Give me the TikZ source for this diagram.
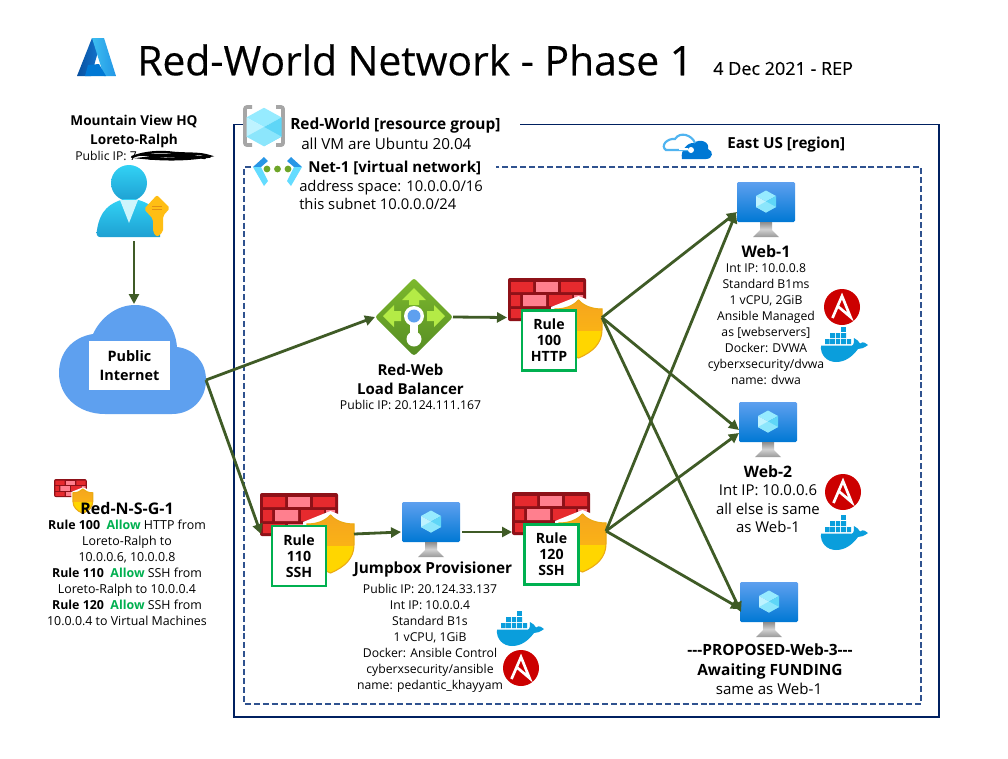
\documentclass[tikz,border=0pt]{standalone}
\usepackage{fontspec}
\setmainfont{Open Sans}
\newfontfamily\titlefont[FakeBold=0.35]{Open Sans}
\newfontfamily\datefont[FakeBold=0.15]{Open Sans}
\usetikzlibrary{arrows.meta,calc}
\definecolor{conn}{HTML}{3F5B26}
\definecolor{ruleg}{HTML}{00B050}
\definecolor{outerb}{HTML}{002060}
\definecolor{innerb}{HTML}{2F528F}
\definecolor{cloudb}{HTML}{5EA0EF}
\definecolor{azblue}{HTML}{0078D4}
\definecolor{brickd}{HTML}{8E1118}
\definecolor{brickr}{HTML}{E62A2E}
\definecolor{brickp}{HTML}{FF7F8E}
\definecolor{dockb}{HTML}{0A9EDC}
\definecolor{ansr}{HTML}{CC0000}
\definecolor{cubea}{HTML}{96EBFF}
\definecolor{cubeb}{HTML}{BEF3FF}
\definecolor{cubec}{HTML}{5FD6F7}
\definecolor{cubed}{HTML}{8CE6FC}
\definecolor{shyel}{HTML}{FFD600}
\definecolor{shora}{HTML}{F5A51E}
\definecolor{shorb}{HTML}{FFBE0F}
\definecolor{shline}{HTML}{EBAA14}
\definecolor{azda}{HTML}{0850A0}
\definecolor{azdb}{HTML}{1478D2}
\definecolor{azla}{HTML}{3CBEF0}
\definecolor{azlb}{HTML}{2396E6}
\definecolor{vneta}{HTML}{2896E6}
\definecolor{vnetb}{HTML}{64DCFF}
\definecolor{vnetg}{HTML}{6EA528}
\definecolor{regl}{HTML}{50B4F0}
\definecolor{pera}{HTML}{32D2F5}
\definecolor{perb}{HTML}{1EA0D2}
\definecolor{perc}{HTML}{CDF5FC}
\definecolor{keya}{HTML}{FFBE14}
\definecolor{keyb}{HTML}{E19114}
\definecolor{lba}{HTML}{7DB92D}
\definecolor{lbb}{HTML}{558C23}
\definecolor{lbc}{HTML}{B4EB46}
\newcommand{\fs}[2]{\fontsize{#1}{#2}\selectfont}
\tikzset{
  x=0.75pt,y=-0.75pt,
  conline/.style={draw=conn,line width=2.1pt,-{Triangle[length=7.5pt,width=7.5pt]}},
  body/.style={align=center,inner sep=0pt,font=\fs{9.15}{12}},
  bodyb/.style={align=center,inner sep=0pt,font=\fs{11.2}{14.2}},
  head/.style={align=center,inner sep=0pt,font=\fs{11.4}{14.2}\bfseries},
  rulebox/.style={draw=ruleg,line width=1.6pt,fill=white,inner sep=0pt,minimum width=40.5pt,minimum height=45pt,align=center,font=\fs{10.6}{12}\bfseries},
  anchorbox/.style={inner sep=0pt,outer sep=0pt},
  cube/.pic={
    \fill[cubea] (0,-11)--(10,-5.5)--(0,0)--(-10,-5.5)--cycle;
    \fill[cubeb] (-10,-5.5)--(0,0)--(0,11)--(-10,5.5)--cycle;
    \fill[cubec] (10,-5.5)--(0,0)--(0,11)--(10,5.5)--cycle;
    \fill[cubed] (0,0)--(-10,5.5)--(0,11)--(10,5.5)--cycle;
  },
  vmicon/.pic={
    \shade[top color=cloudb,bottom color=azblue,rounded corners=1pt] (0,0) rectangle (58,40);
    \shade[top color=black!45,bottom color=black!15] (23,40)--(35,40)--(35,48)--(23,48)--cycle;
    \shade[top color=black!20,bottom color=black!40] (23,48)--(35,48)--(42,55)--(16,55)--cycle;
    \pic at (29,19.5) {cube};
  },
  bricks/.pic={
    \fill[brickd,rounded corners=1.5pt] (0,0) rectangle (78,43);
    \fill[brickr] (3,4) rectangle (25,14) (53,4) rectangle (75,14);
    \fill[brickp] (28,4) rectangle (50,14);
    \fill[brickr] (3,17) rectangle (12,28) (41,17) rectangle (64,28);
    \fill[brickp] (15,17) rectangle (38,28) (66,17) rectangle (75,28);
    \fill[brickr] (3,31) rectangle (25,40) (53,31) rectangle (75,40);
    \fill[brickp] (28,31) rectangle (50,40);
  },
  shield/.pic={
    \def\shp{(0,9) .. controls (10,9) and (18,6) .. (23.5,0) .. controls (29,6) and (37,9) .. (47,9) -- (47,30) .. controls (47,43) and (38,52) .. (23.5,58) .. controls (9,52) and (0,43) .. (0,30) -- cycle}
    \fill[white] (-4,7)--(23.5,-4)--(51,7)--(51,32)--(23.5,62)--(-4,32)--cycle;
    \fill[shyel] \shp;
    \begin{scope}
      \clip (0,-2) rectangle (47,30);
      \shade[top color=shora,bottom color=shorb] \shp;
    \end{scope}
    \draw[shline,line width=0.8pt] \shp;
  },
  ansible/.pic={
    \fill[ansr] (0,0) circle (18);
    \draw[white,line width=2pt,line join=miter] (-9.5,11) -- (0,-11) -- (8.5,10) -- (-4.5,-1);
  },
  dockerw/.pic={
    \fill[dockb] (20,0) rectangle (25,5);
    \fill[dockb] (9,6) rectangle (14,11) (15,6) rectangle (19,11) (20,6) rectangle (25,11);
    \fill[dockb] (4,12) rectangle (8.5,17) (9,12) rectangle (14,17) (15,12) rectangle (19,17) (20,12) rectangle (25,17) (26,12) rectangle (30,17);
    \fill[dockb] (0,18.5) -- (31,18.5) .. controls (33,18.5) and (33,14) .. (33,11) .. controls (36,12) and (38,15) .. (39,16.5) .. controls (42,14) and (45,16) .. (47,18) .. controls (43,21) and (40,22) .. (37,22) .. controls (31,30) and (24,35) .. (15,35) .. controls (6,35) and (-1,28) .. (0,18.5) -- cycle;
  },
}
\begin{document}
\begin{tikzpicture}
\useasboundingbox (0,0) rectangle (1008,758);
\fill[white] (0,0) rectangle (1008,758);

% Azure logo
\shade[left color=azda,right color=azdb] (92,38)--(102,38)--(91,76)--(77,76)--cycle;
\shade[left color=azla,right color=azlb] (92,38)--(104,38)--(116,76)--(104,76)--cycle;
\fill[azblue] (88,65)--(99,64)--(106,76)--(85,76)--cycle;
\node[inner sep=0pt,anchor=west,font=\fs{30.6}{34}\titlefont] (title) at (137,60) {Red-World Network - Phase 1};
\node[inner sep=0pt,anchor=west,font=\fs{13.5}{14}\datefont] (date) at (713,68.5) {4 Dec 2021 - REP};

% Containers
\coordinate (ra) at (243,124.5); \coordinate (rb) at (234,124.5); \coordinate (rc) at (234,717);
\coordinate (rd) at (939,717); \coordinate (re) at (939,124.5); \coordinate (rf) at (520,124.5);
\draw[outerb,line width=0.9pt] (ra)--(rb)--(rc)--(rd)--(re)--(rf);
\coordinate (na) at (251,167); \coordinate (nb) at (244,167); \coordinate (nc) at (244,704);
\coordinate (nd) at (921,704); \coordinate (ne) at (921,167); \coordinate (nf) at (496,167);
\draw[innerb,line width=1.5pt,dash pattern=on 4.5pt off 2.2pt] (na)--(nb)--(nc)--(nd)--(ne)--(nf);

% Resource group icon
\draw[color=black!35,line width=2.8pt,rounded corners=1.5pt] (252,107)--(245,107)--(245,145)--(252,145);
\draw[color=black!35,line width=2.8pt,rounded corners=1.5pt] (276,107)--(283,107)--(283,145)--(276,145);
\pic[scale=1.75] at (264,127) {cube};
\node[head,anchor=west,font=\fs{11.6}{14}\bfseries] (rglabel) at (290,125) {Red-World [resource group]};
\node[bodyb,anchor=west,font=\fs{11.4}{14}] (rgsub) at (301,143.5) {all VM are Ubuntu 20.04};

% VNet icon
\fill[vneta] (253,167)--(264,157)--(268,161)--(261,167)--cycle;
\fill[vnetb] (253,167)--(261,167)--(268,181)--(264,186)--cycle;
\fill[vneta] (302,167)--(291,157)--(287,161)--(294,167)--cycle;
\fill[vnetb] (302,167)--(294,167)--(287,181)--(291,186)--cycle;
\fill[vnetg] (267,169) circle (3.4) (277.5,169) circle (3.4) (288,169) circle (3.4);
\node[head,anchor=west,font=\fs{11.3}{14}\bfseries] (netlabel) at (308,167.5) {Net-1 [virtual network]};
\node[bodyb,anchor=north west,align=left,font=\fs{11.1}{13.7}] (netsub) at (299,180) {address space: 10.0.0.0/16\\this subnet 10.0.0.0/24};

% Region
\fill[azblue] (682,159) .. controls (680,150) and (688,142) .. (694,143) .. controls (700,138) and (710,142) .. (708,149) .. controls (714,151) and (713,159) .. (706,159) -- cycle;
\draw[regl,line width=1.6pt] (695,143) .. controls (692,135) and (680,131) .. (675,139) .. controls (667,138) and (660,146) .. (666,150) -- (690,150);
\draw[white,line width=1pt] (679,149)--(688,149);
\fill[white] (691,150) circle (3);
\node[head,anchor=west] (region) at (727,145) {East US [region]};

% HQ
\node[head,anchor=center,font=\fs{10.2}{14.2}\bfseries] (hq) at (134,131) {Mountain View HQ\\Loreto-Ralph};
\node[body,anchor=west] (hqip) at (75,156) {Public IP: 7};
\draw[black,line width=1.8pt,line cap=round] (132,157) .. controls (145,152) and (160,151) .. (175,153) .. controls (190,154) and (200,153) .. (209,156) .. controls (190,160) and (165,160) .. (145,158) .. controls (165,155) and (185,155) .. (205,158);
\draw[black,line width=1.4pt,line cap=round] (140,155) -- (195,155) (150,159) -- (210,157);
% person
\shade[top color=pera,bottom color=perb] (129,183) circle (18);
\shade[top color=pera,bottom color=perb] (100,237) .. controls (97,237) and (96,234) .. (97,230) .. controls (100,210) and (110,203) .. (124,199) -- (134,199) .. controls (150,202) and (158,210) .. (161,220) -- (160,237) -- cycle;
\fill[perc] (120,200)--(138,200)--(129,223)--cycle;
\fill[keya,rounded corners=1.5pt] (157,195)--(170,208) -- (163,216) -- (163,232) -- (157,237) -- (153,232) -- (153,219) -- (144,209) -- cycle;
\draw[keyb,line width=0.7pt] (152,206)--(162,206) (152,209)--(162,209);

% Cloud
\fill[cloudb] (105,414) .. controls (78,414) and (59,396) .. (59,373) .. controls (59,352) and (73,337) .. (93,334) .. controls (101,317) and (117,305) .. (135,305) .. controls (158,305) and (175,323) .. (177,347) .. controls (194,349) and (206,362) .. (206,380) .. controls (206,399) and (192,414) .. (172,414) -- cycle;
\coordinate (cloudout) at (206,380);
\coordinate (cloudtop) at (134,304);
\node[fill=white,inner sep=0pt,minimum width=60.7pt,minimum height=36.7pt,align=center,font=\fs{10.8}{14}\bfseries] (cloudlabel) at (129.5,365.5) {Public\\Internet};
\coordinate (person) at (134,241);

% Load balancer
\node[anchorbox,minimum width=58.5pt,minimum height=58.5pt] (lb) at (414,317) {};
\shade[top color=lba,bottom color=lbb,rounded corners=2pt] (414,278)--(453,317)--(414,356)--(375,317)--cycle;
\fill[lbc] (414,288)--(426,300)--(419,300)--(419,305)--(409,305)--(409,300)--(402,300)--cycle;
\fill[lbc] (383,316)--(394,305)--(394,311)--(401,311)--(401,321)--(394,321)--(394,327)--cycle;
\fill[lbc] (445,316)--(434,305)--(434,311)--(427,311)--(427,321)--(434,321)--(434,327)--cycle;
\fill[white] (414,316) circle (10) (414,339) circle (7.5);
\fill[white] (410,322) rectangle (418,335);
\fill[cloudb] (414,316) circle (6.5);
\node[head,font=\fs{11.3}{14}\bfseries] (lbname) at (410.5,379.5) {Red-Web\\Load Balancer};
\node[body] (lbip) at (410.5,405) {Public IP: 20.124.111.167};

% Firewalls
\pic at (508,278) {bricks};
\pic at (555,300) {shield};
\node[rulebox] (fw1) at (549,340.5) {Rule\\100\\HTTP};
\coordinate (fw1in) at (507,317.5);
\coordinate (fw1out) at (602,317.5);
\pic at (260,493) {bricks};
\pic at (307,515) {shield};
\node[rulebox] (fw2) at (299,556) {Rule\\110\\SSH};
\coordinate (fw2in) at (261,534);
\coordinate (fw2out) at (354,534);
\pic at (512,492) {bricks};
\pic at (559,514) {shield};
\node[rulebox] (fw3) at (551.5,554.5) {Rule\\120\\SSH};
\coordinate (fw3in) at (512,532);
\coordinate (fw3out) at (606,531);

% VMs
\pic at (737,182) {vmicon};
\coordinate (web1a) at (737,212); \coordinate (web1b) at (736,213);
\node[head,font=\fs{12}{14}\bfseries] (web1t) at (766,251) {Web-1};
\node[body,anchor=north] (web1s) at (766,263) {Int IP: 10.0.0.8\\Standard B1ms\\1 vCPU, 2GiB\\Ansible Managed\\as [webservers]\\Docker: DVWA\\cyberxsecurity/dvwa\\name: dvwa};
\pic at (842,307) {ansible};
\pic at (821,327) {dockerw};

\pic at (739,402) {vmicon};
\coordinate (web2a) at (739,430); \coordinate (web2b) at (739,433);
\node[head,font=\fs{11.8}{14}\bfseries] (web2t) at (768,471.5) {Web-2};
\node[bodyb,anchor=north] (web2s) at (768,484) {Int IP: 10.0.0.6\\all else is same\\as Web-1};
\pic at (843,492) {ansible};
\pic at (821,515) {dockerw};

\pic at (740,582) {vmicon};
\coordinate (web3a) at (741,612); \coordinate (web3b) at (741,609);
\node[head,font=\fs{11.6}{14.6}\bfseries] (web3t) at (770,661.5) {-{}-{}-PROPOSED-Web-3-{}-{}-\\Awaiting FUNDING};
\node[bodyb,font=\fs{11.3}{14}] (web3s) at (769,689) {same as Web-1};

\pic at (402,502) {vmicon};
\coordinate (jumpin) at (401,532); \coordinate (jumpout) at (462,532);
\node[head,font=\fs{11.5}{14}\bfseries] (jumpt) at (433,570) {Jumpbox Provisioner};
\node[body,anchor=north] (jumps) at (430,584) {Public IP: 20.124.33.137\\Int IP: 10.0.0.4\\Standard B1s\\1 vCPU, 1GiB\\Docker: Ansible Control\\cyberxsecurity/ansible\\name: pedantic\_khayyam};
\pic at (497,611) {dockerw};
\pic at (521,668) {ansible};

% NSG legend
\pic[scale=0.42] at (54,479) {bricks};
\pic[scale=0.42] at (73,489) {shield};
\node[head,font=\fs{12}{14}\bfseries] (nsgt) at (127,508) {Red-N-S-G-1};
\node[body,anchor=north,font=\fs{9.3}{12}] (nsgs) at (127,520) {\textbf{Rule 100} \ \textcolor{ruleg}{\textbf{Allow}} HTTP from\\Loreto-Ralph to\\10.0.0.6, 10.0.0.8\\\textbf{Rule 110} \ \textcolor{ruleg}{\textbf{Allow}} SSH from\\Loreto-Ralph to 10.0.0.4\\\textbf{Rule 120} \ \textcolor{ruleg}{\textbf{Allow}} SSH from\\10.0.0.4 to Virtual Machines};

% Connectors
\draw[conline] (person)--(cloudtop);
\draw[conline] (cloudout)--(lb.west);
\draw[conline] (cloudout)--(fw2in);
\draw[conline] (lb.east)--(fw1in);
\draw[conline] (fw1out)--(web1a);
\draw[conline] (fw1out)--(web2a);
\draw[conline] (fw1out)--(web3a);
\draw[conline] (fw2out)--(jumpin);
\draw[conline] (jumpout)--(fw3in);
\draw[conline] (fw3out)--(web1b);
\draw[conline] (fw3out)--(web2b);
\draw[conline] (fw3out)--(web3b);
\end{tikzpicture}
\end{document}
